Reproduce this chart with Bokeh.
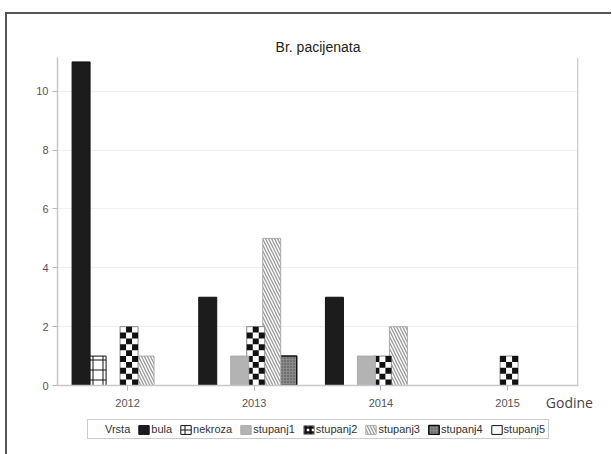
from bokeh.plotting import figure
from bokeh.layouts import column
from bokeh.models import Legend, LegendItem, Span, ColumnDataSource, FixedTicker
from bokeh.embed import file_html
from bokeh.resources import INLINE

# ---- data ----
years = [2012, 2013, 2014, 2015]
series = ["bula", "nekroza", "stupanj1", "stupanj2", "stupanj3", "stupanj4", "stupanj5"]
bula = [11, 3, 3, 0]
nekroza = [1, 0, 0, 0]
stupanj1 = [0, 1, 1, 0]
stupanj2 = [2, 2, 1, 1]
stupanj3 = [1, 5, 2, 0]
stupanj4 = [0, 1, 0, 0]
stupanj5 = [0, 0, 0, 0]
y_ticks = [0, 2, 4, 6, 8, 10]
title_text = "Br. pacijenata"
x_label = "Godine"
legend_title = "Vrsta"

values = {"bula": bula, "nekroza": nekroza, "stupanj1": stupanj1, "stupanj2": stupanj2,
          "stupanj3": stupanj3, "stupanj4": stupanj4, "stupanj5": stupanj5}

SLOT = 0.1263
SHIFT = 0.012
BAR_W = 0.142
CHECK_ROW = 0.2
NAN = float("nan")

styles_map = {
    "bula": dict(fill_color="#1c1c1c", line_color="#111111"),
    "nekroza": dict(fill_color="white", line_color="#111111", hatch_pattern="+",
                    hatch_color="#111111", hatch_scale=10, hatch_weight=1),
    "stupanj1": dict(fill_color="#b3b3b3", line_color="#aaaaaa"),
    "stupanj2": dict(fill_color="white", line_color="#888888"),
    "stupanj3": dict(fill_color="white", line_color="#aaaaaa", hatch_pattern="\\",
                     hatch_color="#9a9a9a", hatch_scale=6, hatch_weight=1.3),
    "stupanj4": dict(fill_color="#8a8a8a", line_color="#111111", line_width=1.5,
                     hatch_pattern=".", hatch_color="#4a4a4a", hatch_scale=3, hatch_weight=1),
    "stupanj5": dict(fill_color="white", line_color="#111111"),
}
checker_icon = dict(fill_color="white", line_color="#888888", hatch_pattern="+",
                    hatch_color="#111111", hatch_scale=5, hatch_weight=2.5)

p = figure(width=604, height=400, x_range=(2011.447, 2015.56), y_range=(0, 11.15),
           output_backend="svg", toolbar_location=None,
           min_border_left=50, min_border_right=33, min_border_top=43, min_border_bottom=29)
p.background_fill_color = "white"
p.border_fill_color = "white"
p.outline_line_color = None

p.title.text = title_text
p.title.align = "center"
p.title.text_font = "Liberation Sans"
p.title.text_font_size = "14px"
p.title.text_font_style = "normal"
p.title.text_color = "#222222"
p.title.standoff = 6

for i in reversed(range(len(series))):
    name = series[i]
    vals = values[name]
    xs = [y + SHIFT + (i - 3) * SLOT for y, v in zip(years, vals) if v > 0]
    tops = [v for v in vals if v > 0]
    if not xs:
        continue
    src = ColumnDataSource(dict(x=xs, top=tops))
    kw = dict(styles_map[name])
    kw.setdefault("line_width", 1)
    p.vbar(x="x", top="top", bottom=0, width=BAR_W, source=src, **kw)
    if name == "stupanj2":
        left, right, bottom, top = [], [], [], []
        for y, v in zip(years, vals):
            if v <= 0:
                continue
            cx = y + SHIFT + (i - 3) * SLOT
            nrows = int(round(v / CHECK_ROW))
            cw = BAR_W / 3
            for rr in range(nrows):
                for c in range(3):
                    if (rr + c) % 2 == 0:
                        l = cx - BAR_W / 2 + c * cw
                        left.append(l)
                        right.append(l + cw)
                        bottom.append(rr * CHECK_ROW)
                        top.append((rr + 1) * CHECK_ROW)
        p.quad(left=left, right=right, bottom=bottom, top=top,
               fill_color="#111111", line_color=None)

# axes
p.xaxis.ticker = FixedTicker(ticks=years)
p.yaxis.ticker = FixedTicker(ticks=y_ticks)
for ax in (p.xaxis, p.yaxis):
    ax.axis_line_color = "#c8c8c8"
    ax.axis_line_width = 1.5
    ax.major_tick_line_color = "#b8b8b8"
    ax.major_tick_out = 5
    ax.major_tick_in = 0
    ax.minor_tick_line_color = None
    ax.major_label_text_font = "Liberation Sans"
    ax.major_label_text_font_size = "11px"
    ax.major_label_text_color = "#555555"
p.xaxis.major_label_standoff = 8
p.yaxis.major_label_standoff = 4

xa = p.xaxis[0]
# a few trailing no-break spaces pull the end-anchored label left, inside the window
xa.axis_label = x_label + "\u00a0" * 5
xa.axis_label_text_font = "Open Sans"
xa.axis_label_text_font_size = "14px"
xa.axis_label_text_font_style = "normal"
xa.axis_label_text_color = "#444444"
xa.axis_label_standoff = -17
try:
    xa.axis_label_align = "end"
except Exception:
    pass

p.xgrid.visible = False
p.ygrid.grid_line_color = "#efefef"

p.add_layout(Span(location=2015.555, dimension="height", line_color="#c8c8c8", line_width=1.5))

# ---- legend strip (separate figure, legend drawn from proxy glyphs) ----
lg = figure(width=604, height=40, x_range=(0, 1), y_range=(0, 1),
            output_backend="svg", toolbar_location=None,
            x_axis_type=None, y_axis_type=None, min_border=0,
            min_border_left=0, min_border_right=0, min_border_top=0, min_border_bottom=0)
lg.outline_line_color = None
lg.background_fill_color = "white"
lg.border_fill_color = "white"
lg.xgrid.visible = False
lg.ygrid.visible = False

items = [LegendItem(label=legend_title,
                    renderers=[lg.vbar(x=[NAN], top=[NAN], width=0.1, fill_alpha=0, line_alpha=0)])]
for name in series:
    kw = dict(checker_icon if name == "stupanj2" else styles_map[name])
    r = lg.vbar(x=[NAN], top=[NAN], width=0.1, **kw)
    items.append(LegendItem(label=name, renderers=[r]))

legend = Legend(items=items, orientation="horizontal", location=(30, 15),
                label_text_font="Liberation Sans", label_text_font_size="11px",
                label_text_color="#333333", glyph_width=13, glyph_height=11,
                label_standoff=1, spacing=7, padding=3, margin=0,
                border_line_color="#999999", border_line_width=1,
                background_fill_color="white", background_fill_alpha=1,
                label_height=11)
lg.add_layout(legend, "center")

layout = column(p, lg, spacing=0,
                styles={"margin-top": "12px", "margin-left": "5px",
                        "border-top": "2px solid #555555", "border-left": "2px solid #555555"})

open("out.html", "w").write(file_html(layout, INLINE))
